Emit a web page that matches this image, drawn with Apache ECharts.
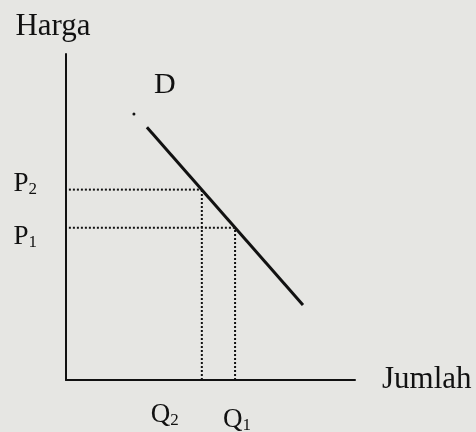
<!DOCTYPE html>
<html>
<head>
<meta charset="utf-8">
<script src="https://cdn.jsdelivr.net/npm/echarts@6/dist/echarts.min.js"></script>
<style>
  html, body { margin: 0; padding: 0; background: #e6e6e3; }
  #chart { width: 476px; height: 432px; }
</style>
</head>
<body>
<div id="chart"></div>
<script>
// kurva permintaan D (jumlah, harga)
const demandQty = [28, 82]
const demandPrice = [77.5, 23]
// titik harga / jumlah yang ditandai
const priceLabels = ['P2', 'P1']
const priceLevels = [58.4, 46.7]
const qtyLabels = ['Q2', 'Q1']
const qtyLevels = [47, 58.5]
// titik kecil hasil scan di atas kurva
const strayDot = [23.5, 81.6]

const serif = 'Liberation Serif'
const ink = '#111'

const subLabel = (name) => `{m|${name[0]}}{s|${name.slice(1)}}`
const richText = {
  m: { fontFamily: serif, fontSize: 27, color: ink },
  s: { fontFamily: serif, fontSize: 17, color: ink, padding: [12, 0, 0, 0] }
}

const chart = echarts.init(document.getElementById('chart'))

// garis putus-putus: horizontal dari sumbu harga, vertikal ke sumbu jumlah
const guideSeries = []
priceLevels.forEach((p, i) => {
  const q = qtyLevels[i]
  guideSeries.push({
    type: 'line', silent: true, symbol: 'none',
    lineStyle: { color: ink, width: 2, type: [2, 2] },
    data: [[1, p], [q, p]]
  })
  guideSeries.push({
    type: 'line', silent: true, symbol: 'none',
    lineStyle: { color: ink, width: 2, type: [2, 2] },
    data: [[q, 0], [q, p]]
  })
})

const priceOffsets = [[0, -6], [0, 9]]
const qtyOffsets = [[-37, 0], [2, 5]]

chart.setOption({
  backgroundColor: '#e6e6e3',
  animation: false,
  grid: { left: 66, top: 54, width: 289, height: 326 },
  xAxis: {
    type: 'value', min: 0, max: 100,
    name: 'Jumlah', nameLocation: 'end', nameGap: 27,
    nameTextStyle: { fontFamily: serif, fontSize: 31, color: ink, verticalAlign: 'middle', padding: [0, 0, 8, 0] },
    axisLine: { onZero: false, lineStyle: { color: ink, width: 2 } },
    axisTick: { show: false }, axisLabel: { show: false }, splitLine: { show: false }
  },
  yAxis: {
    type: 'value', min: 0, max: 100,
    name: 'Harga', nameLocation: 'end', nameGap: 12,
    nameTextStyle: { fontFamily: serif, fontSize: 31, color: ink, align: 'center', padding: [0, 26, 0, 0] },
    axisLine: { show: true, onZero: false, lineStyle: { color: ink, width: 2 } },
    axisTick: { show: false }, axisLabel: { show: false }, splitLine: { show: false }
  },
  series: [
    ...guideSeries,
    {
      type: 'line', silent: true, symbol: 'none',
      lineStyle: { color: ink, width: 3 },
      data: demandQty.map((q, i) => [q, demandPrice[i]])
    },
    {
      // label D
      type: 'scatter', silent: true, symbolSize: 0,
      itemStyle: { opacity: 1 },
      data: [[demandQty[0], demandPrice[0]]],
      label: {
        show: true, position: 'top', offset: [18, -22], opacity: 1,
        formatter: 'D', fontFamily: serif, fontSize: 30, color: ink
      }
    },
    {
      type: 'scatter', silent: true, symbolSize: 3,
      itemStyle: { color: ink, opacity: 1 },
      data: [strayDot]
    },
    {
      // label harga pada sumbu tegak
      type: 'scatter', silent: true, symbolSize: 0,
      itemStyle: { opacity: 1 },
      data: priceLevels.map((p, i) => ({
        value: [0, p], name: priceLabels[i],
        label: { offset: priceOffsets[i] }
      })),
      label: {
        show: true, position: 'left', distance: 29, opacity: 1,
        formatter: (d) => subLabel(d.name), rich: richText
      }
    },
    {
      // label jumlah pada sumbu datar
      type: 'scatter', silent: true, symbolSize: 0,
      itemStyle: { opacity: 1 },
      data: qtyLevels.map((q, i) => ({
        value: [q, 0], name: qtyLabels[i],
        label: { offset: qtyOffsets[i] }
      })),
      label: {
        show: true, position: 'bottom', distance: 20, opacity: 1,
        formatter: (d) => subLabel(d.name), rich: richText
      }
    }
  ]
})
</script>
</body>
</html>
